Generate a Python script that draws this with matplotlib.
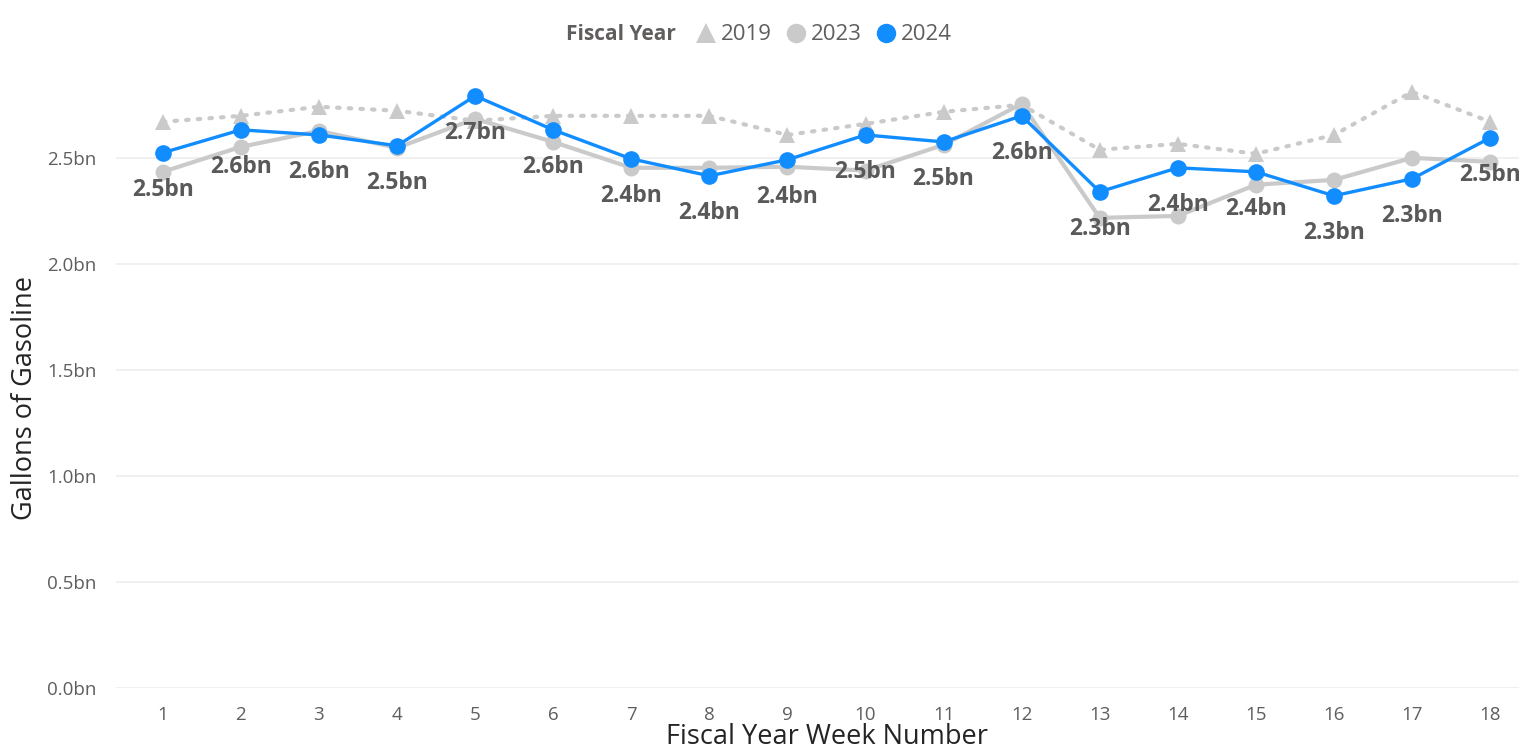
import matplotlib
matplotlib.use("Agg")
import matplotlib.pyplot as plt
from matplotlib.lines import Line2D

weeks = list(range(1, 19))
fy2019 = [2.670, 2.698, 2.741, 2.722, 2.675, 2.698, 2.698, 2.698, 2.608,
          2.660, 2.717, 2.750, 2.538, 2.566, 2.519, 2.608, 2.811, 2.670]
fy2023 = [2.434, 2.552, 2.627, 2.547, 2.684, 2.575, 2.453, 2.453, 2.458,
          2.440, 2.561, 2.755, 2.217, 2.226, 2.373, 2.396, 2.500, 2.481]
fy2024 = [2.524, 2.632, 2.608, 2.557, 2.792, 2.632, 2.495, 2.415, 2.491,
          2.608, 2.575, 2.698, 2.340, 2.453, 2.434, 2.321, 2.401, 2.594]
labels2024 = ["2.5bn", "2.6bn", "2.6bn", "2.5bn", "2.7bn", "2.6bn", "2.4bn", "2.4bn", "2.4bn",
              "2.5bn", "2.5bn", "2.6bn", "2.3bn", "2.4bn", "2.4bn", "2.3bn", "2.3bn", "2.5bn"]
yticks = [0.0, 0.5, 1.0, 1.5, 2.0, 2.5]
ytick_labels = ["0.0bn", "0.5bn", "1.0bn", "1.5bn", "2.0bn", "2.5bn"]

plt.rcParams['font.family'] = ['Open Sans', 'DejaVu Sans']

BLUE = "#118DFF"
GREY = "#CACACA"
TXT = "#605E5C"
LBL = "#595959"

fig = plt.figure(figsize=(15.19, 7.56), dpi=100)
ax = fig.add_axes([116/1519, 68/756, 1 - 116/1519, (688-73)/756])

ax.plot(weeks, fy2019, color=GREY, lw=3, linestyle=(0, (0.6, 2.2)), dash_capstyle='round',
        marker='^', markersize=12, markeredgewidth=0, zorder=2)
ax.plot(weeks, fy2023, color=GREY, lw=3, marker='o', markersize=11.5, markeredgewidth=0, zorder=3)
ax.plot(weeks, fy2024, color=BLUE, lw=2.4, marker='o', markersize=12, markeredgewidth=0, zorder=4)

for w, v, t in zip(weeks, fy2024, labels2024):
    ax.annotate(t, (w, v), xytext=(0, -37), textcoords='offset pixels', ha='center', va='center',
                fontsize=16.5, fontweight='bold', color=LBL, zorder=6, annotation_clip=False)

ax.set_xlim(0.4, 18.37)
ax.set_ylim(0, 2.9)
ax.set_yticks(yticks)
ax.set_yticklabels(ytick_labels)
ax.set_xticks(weeks)
ax.set_xticklabels([str(w) for w in weeks])
ax.tick_params(axis='both', length=0, labelsize=13.5, colors=TXT)
ax.tick_params(axis='x', pad=13)
ax.tick_params(axis='y', pad=14)
ax.grid(axis='y', color="#EDEDED", lw=1.2)
ax.set_axisbelow(True)
for s in ax.spines.values():
    s.set_visible(False)

fig.text(25/1519, (756-398)/756, "Gallons of Gasoline", rotation=90, ha='center', va='center',
         fontsize=19.5, color="#252423")
fig.text(827/1519, (756-737)/756, "Fiscal Year Week Number", ha='center', va='center',
         fontsize=19.5, color="#252423")

fig.text(621/1519, (756-35)/756, "Fiscal Year", ha='center', va='center', fontsize=15,
         fontweight='bold', color=TXT)
handles = [
    Line2D([], [], color=GREY, marker='^', linestyle='none', markersize=14, markeredgewidth=0),
    Line2D([], [], color=GREY, marker='o', linestyle='none', markersize=14, markeredgewidth=0),
    Line2D([], [], color=BLUE, marker='o', linestyle='none', markersize=14, markeredgewidth=0),
]
leg = fig.legend(handles, ["2019", "2023", "2024"], loc='center left',
                 bbox_to_anchor=(692/1519, (756-35)/756), ncol=3, frameon=False,
                 fontsize=16, handletextpad=0.0, columnspacing=0.45, handlelength=1.3,
                 borderaxespad=0, borderpad=0)
for t in leg.get_texts():
    t.set_color(TXT)

fig.savefig("out.png", dpi=100)
